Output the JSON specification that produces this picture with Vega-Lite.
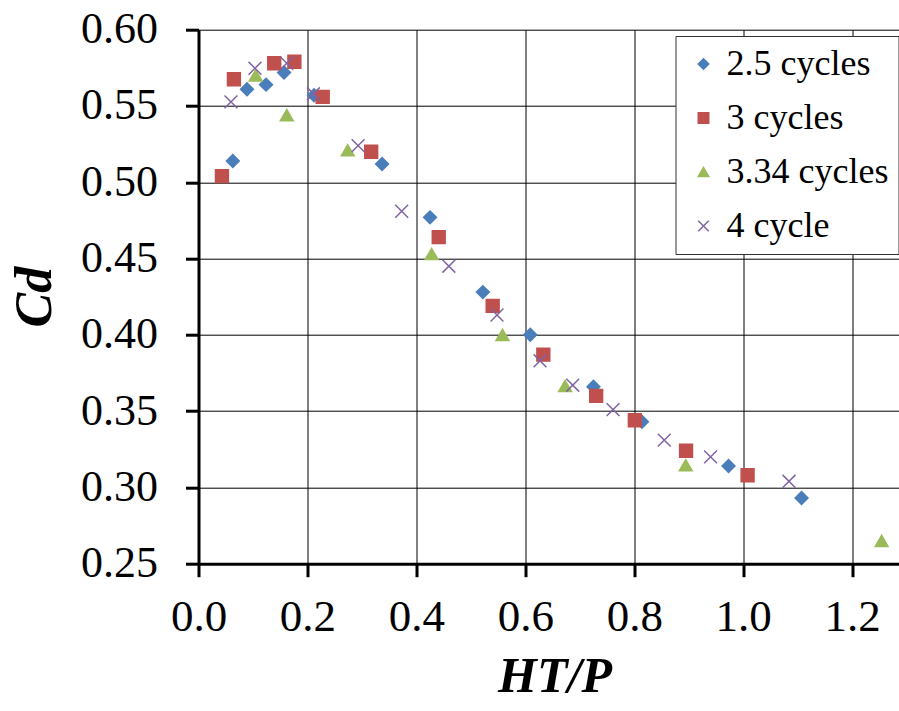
{
  "$schema": "https://vega.github.io/schema/vega-lite/v6.json",
  "width": 700,
  "height": 534,
  "autosize": {"type": "none"},
  "padding": {"left": 198.5, "top": 29.7, "right": 0.5, "bottom": 147.3},
  "background": "white",
  "config": {"view": {"stroke": null}, "font": "Liberation Serif"},
  "data": {
    "values": [
      {"series": "2.5 cycles", "ht_p": 0.063, "cd": 0.514},
      {"series": "2.5 cycles", "ht_p": 0.089, "cd": 0.561},
      {"series": "2.5 cycles", "ht_p": 0.124, "cd": 0.564},
      {"series": "2.5 cycles", "ht_p": 0.157, "cd": 0.572},
      {"series": "2.5 cycles", "ht_p": 0.212, "cd": 0.557},
      {"series": "2.5 cycles", "ht_p": 0.337, "cd": 0.512},
      {"series": "2.5 cycles", "ht_p": 0.425, "cd": 0.477},
      {"series": "2.5 cycles", "ht_p": 0.522, "cd": 0.428},
      {"series": "2.5 cycles", "ht_p": 0.609, "cd": 0.400},
      {"series": "2.5 cycles", "ht_p": 0.725, "cd": 0.366},
      {"series": "2.5 cycles", "ht_p": 0.814, "cd": 0.343},
      {"series": "2.5 cycles", "ht_p": 0.973, "cd": 0.314},
      {"series": "2.5 cycles", "ht_p": 1.107, "cd": 0.293},
      {"series": "3 cycles", "ht_p": 0.043, "cd": 0.504},
      {"series": "3 cycles", "ht_p": 0.065, "cd": 0.5675},
      {"series": "3 cycles", "ht_p": 0.139, "cd": 0.578},
      {"series": "3 cycles", "ht_p": 0.176, "cd": 0.579},
      {"series": "3 cycles", "ht_p": 0.228, "cd": 0.556},
      {"series": "3 cycles", "ht_p": 0.317, "cd": 0.520},
      {"series": "3 cycles", "ht_p": 0.441, "cd": 0.464},
      {"series": "3 cycles", "ht_p": 0.540, "cd": 0.419},
      {"series": "3 cycles", "ht_p": 0.633, "cd": 0.387},
      {"series": "3 cycles", "ht_p": 0.730, "cd": 0.360},
      {"series": "3 cycles", "ht_p": 0.801, "cd": 0.344},
      {"series": "3 cycles", "ht_p": 0.895, "cd": 0.324},
      {"series": "3 cycles", "ht_p": 1.008, "cd": 0.308},
      {"series": "3.34 cycles", "ht_p": 0.105, "cd": 0.570},
      {"series": "3.34 cycles", "ht_p": 0.162, "cd": 0.544},
      {"series": "3.34 cycles", "ht_p": 0.274, "cd": 0.521},
      {"series": "3.34 cycles", "ht_p": 0.428, "cd": 0.453},
      {"series": "3.34 cycles", "ht_p": 0.558, "cd": 0.400},
      {"series": "3.34 cycles", "ht_p": 0.673, "cd": 0.3665},
      {"series": "3.34 cycles", "ht_p": 0.8945, "cd": 0.3145},
      {"series": "3.34 cycles", "ht_p": 1.254, "cd": 0.265},
      {"series": "4 cycle", "ht_p": 0.0596, "cd": 0.5527},
      {"series": "4 cycle", "ht_p": 0.1037, "cd": 0.5747},
      {"series": "4 cycle", "ht_p": 0.162, "cd": 0.578},
      {"series": "4 cycle", "ht_p": 0.211, "cd": 0.558},
      {"series": "4 cycle", "ht_p": 0.293, "cd": 0.524},
      {"series": "4 cycle", "ht_p": 0.373, "cd": 0.481},
      {"series": "4 cycle", "ht_p": 0.4596, "cd": 0.445},
      {"series": "4 cycle", "ht_p": 0.548, "cd": 0.413},
      {"series": "4 cycle", "ht_p": 0.627, "cd": 0.383},
      {"series": "4 cycle", "ht_p": 0.687, "cd": 0.367},
      {"series": "4 cycle", "ht_p": 0.761, "cd": 0.351},
      {"series": "4 cycle", "ht_p": 0.855, "cd": 0.331},
      {"series": "4 cycle", "ht_p": 0.940, "cd": 0.320},
      {"series": "4 cycle", "ht_p": 1.084, "cd": 0.304}
    ]
  },
  "mark": {"type": "point", "filled": true, "strokeWidth": 1.5, "opacity": 1, "size": 165},
  "encoding": {
    "x": {
      "field": "ht_p",
      "type": "quantitative",
      "scale": {"domain": [0, 1.285], "nice": false, "zero": false},
      "axis": {
        "values": [0, 0.2, 0.4, 0.6, 0.8, 1.0, 1.2],
        "format": ".1f",
        "title": "HT/P",
        "labelFont": "Liberation Serif",
        "labelFontSize": 45,
        "labelColor": "black",
        "labelPadding": 18,
        "labelFlush": false,
        "labelOverlap": false,
        "tickSize": 13,
        "tickWidth": 3,
        "tickColor": "black",
        "domainColor": "black",
        "domainWidth": 3,
        "gridColor": "black",
        "gridWidth": 1,
        "titleFont": "Liberation Serif",
        "titleFontSize": 50,
        "titleFontStyle": "italic",
        "titleFontWeight": "bold",
        "titleColor": "black",
        "titleBaseline": "alphabetic",
        "titleY": 128,
        "titleX": 356
      }
    },
    "y": {
      "field": "cd",
      "type": "quantitative",
      "scale": {"domain": [0.25, 0.6], "nice": false, "zero": false},
      "axis": {
        "values": [0.25, 0.3, 0.35, 0.4, 0.45, 0.5, 0.55, 0.6],
        "format": ".2f",
        "title": "Cd",
        "labelFont": "Liberation Serif",
        "labelFontSize": 44,
        "labelColor": "black",
        "labelPadding": 28,
        "labelOverlap": false,
        "labelFlush": false,
        "tickSize": 13,
        "tickWidth": 3,
        "tickColor": "black",
        "domainColor": "black",
        "domainWidth": 3,
        "gridColor": "black",
        "gridWidth": 1,
        "titleFont": "Liberation Serif",
        "titleFontSize": 52,
        "titleFontStyle": "italic",
        "titleFontWeight": "bold",
        "titleColor": "black",
        "titleBaseline": "alphabetic",
        "titleX": -148
      }
    },
    "fill": {
      "field": "series",
      "type": "nominal",
      "scale": {
        "domain": ["2.5 cycles", "3 cycles", "3.34 cycles", "4 cycle"],
        "range": ["#4A7EBB", "#C0504D", "#9BBB59", "#8064A2"]
      },
      "legend": {
        "orient": "none",
        "legendX": 477,
        "legendY": 6.3,
        "title": null,
        "padding": 10,
        "strokeColor": "#333",
        "fillColor": "white",
        "labelFont": "Liberation Serif",
        "labelFontSize": 36,
        "labelColor": "black",
        "labelLimit": 400,
        "labelOffset": 5,
        "symbolSize": 110,
        "symbolStrokeWidth": 1.5,
        "rowPadding": 18
      }
    },
    "stroke": {
      "field": "series",
      "type": "nominal",
      "scale": {
        "domain": ["2.5 cycles", "3 cycles", "3.34 cycles", "4 cycle"],
        "range": ["#4A7EBB", "#C0504D", "#9BBB59", "#8064A2"]
      }
    },
    "shape": {
      "field": "series",
      "type": "nominal",
      "scale": {
        "domain": ["2.5 cycles", "3 cycles", "3.34 cycles", "4 cycle"],
        "range": ["diamond", "square", "triangle-up", "M-1,-1L1,1M-1,1L1,-1"]
      }
    }
  }
}
